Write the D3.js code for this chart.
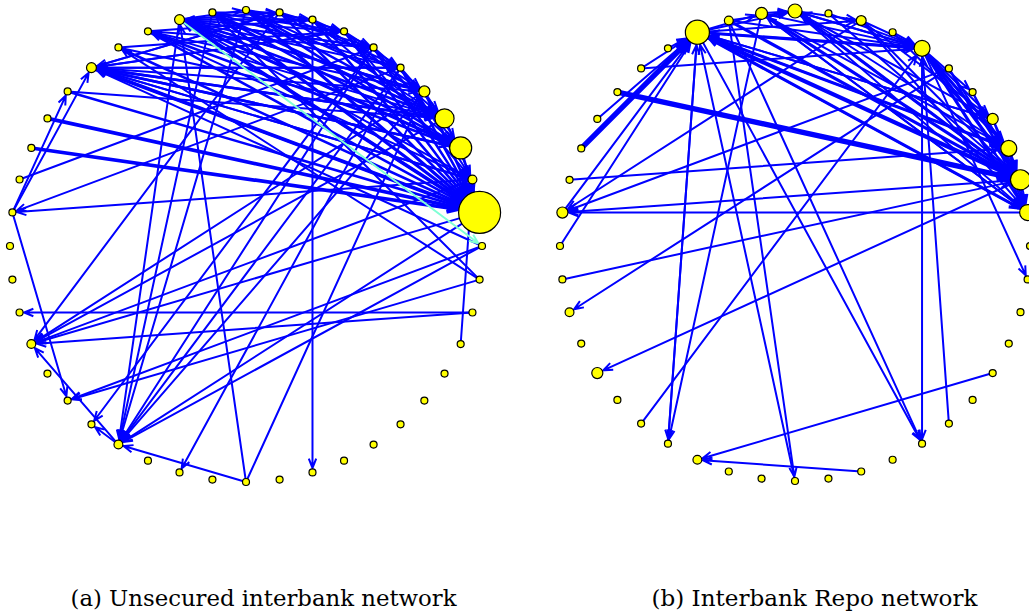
<!DOCTYPE html>
<html lang="en">
<head>
<meta charset="UTF-8">
<title>Interbank networks</title>
<script src="https://d3js.org/d3.v7.min.js"></script>
<style>
  body { margin: 0; background: #fff; }
  .caption { font-family: "DejaVu Serif", "Liberation Serif", serif; }
</style>
</head>
<body>
<script>
const width = 1029;
const height = 613;
const nodeCount = 44;

// node volume (bank size), index 0 = top of circle, clockwise
const volumeA = [1,1,1,1,1,1,2.5,7.4,9.9,1.6,36,1,1,1,1,1,1,1,1,1,1,1,1,1,1,1,1.6,1,1,1,1.6,1,1,1,1,1,1,1,1,2,1,1,2,1];
const volumeB = [4,1,2,1,5.2,1,1,2.5,5.2,8.2,5.2,1,1,1,1,1,1,1,1,1,1,1,1,1,1,1.6,1,1,1,2.5,1,1.6,1,1,2.5,1,1,1,1,1,1,11.8,1.6,2.9];

// [source, target, weight]
const edgesA = [
  [42,0,1],[42,1,1],[42,2,1],[42,3,1],[42,4,1],[42,5,1],[42,6,1.5],[42,7,1.5],[42,8,2],[42,9,1],[42,10,2.5],
  [43,1,1],[43,3,1],[43,5,1],[43,7,1.5],[43,8,1.5],[43,10,2],
  [0,2,1],[0,4,1],[0,6,1],[0,7,1.5],[0,8,1.5],[0,10,2],
  [1,3,1],[1,5,1],[1,7,1],[1,10,1.5],
  [2,4,1],[2,6,1],[2,8,1],[2,10,1.5],[2,20,1],
  [3,5,1],[3,7,1],[3,9,1],[3,10,1.5],
  [4,6,1],[4,8,1],[4,10,1.5],
  [5,7,1],[5,9,1],[5,10,1.5],
  [6,8,1],[6,10,1.5],[7,9,1],[8,10,1.5],
  [39,1,1],[39,3,1],[39,5,1],[39,6,1],[39,7,1.5],[39,8,1.5],[39,9,1],[39,10,2.5],
  [41,2,1],[41,4,1],[41,6,1],[41,8,1.5],[41,10,1.5],
  [40,3,1],[40,7,1],[40,10,1.5],
  [38,10,1.5],[38,7,1],[37,10,2.5],[36,10,2.5],[35,4,1],
  [1,39,1],[3,39,1],[5,39,1],[7,39,1.5],[8,39,1.5],[10,39,1.5],[11,39,1],[9,39,1],
  [2,42,1],[4,42,1],[6,42,1],[8,42,1],[10,42,1.5],[9,41,1],[7,41,1],[12,40,1],
  [12,43,1],
  [34,38,1],[34,39,1],[5,34,1],[9,34,1],[34,28,1],
  [13,31,1],[13,30,1],[14,9,1],
  [1,30,1],[6,30,1],[7,30,1],[9,30,1],[10,30,1],[26,30,1],
  [42,26,1],[43,26,1],[0,26,1],[4,26,1],[5,26,1],[6,26,1],[10,26,1],[11,26,1],[22,26,1],
  [4,27,1],[26,27,1],
  [11,28,1],[12,28,1],[5,24,1],[22,42,1],[22,6,1]
];
const highlightA = [[42,11,1]];

const edgesB = [
  [36,41,4],[37,41,1],[39,41,1],[40,41,1],[34,41,1],[33,41,1],[22,41,1],[26,41,1],
  [9,41,1],[10,41,1],[8,41,1],[4,41,1],[7,41,1],
  [41,43,1],[41,0,1],[41,2,1],[41,4,2],[41,7,1],[41,8,2],[41,9,3],[41,10,2],[41,26,1],[41,18,1],
  [42,0,1],[42,18,1],[42,22,1],[42,9,2],[42,4,1],
  [43,0,1],[43,4,1],[43,8,1],[43,9,2],[43,10,1],[43,26,1],
  [0,2,1],[0,4,1],[0,7,1],[0,8,1],[0,9,2],[0,10,1],
  [1,4,1],[1,9,1],
  [2,4,1],[2,7,1],[2,9,1],[2,10,1],[2,34,1],
  [3,4,1],[3,8,1],
  [4,6,1],[4,7,1],[4,8,2],[4,9,2],[4,10,2],[4,18,1],[17,4,1],[4,12,1],[4,0,1],
  [5,9,1],[5,10,1],[6,9,1],[6,10,1],[7,9,1],[7,10,1],[8,9,1],[8,10,1],[9,10,1],
  [9,0,1],[10,43,1],
  [38,9,4],[39,4,1],[35,8,1],[32,9,1],[9,34,1],[10,34,1],[5,34,1],[5,31,1],[9,29,1],[27,4,1],[15,25,1],[20,25,1]
];

const captions = ["(a) Unsecured interbank network", "(b) Interbank Repo network"];

const svg = d3.select("body").append("svg")
  .attr("width", width)
  .attr("height", height);

const angle = d3.scaleLinear().domain([0, nodeCount]).range([0, 2 * Math.PI]);
const radius = d3.scaleSqrt().domain([0, 36]).range([0, 21]);
const strokeW = d3.scaleLinear().domain([1, 4]).range([2, 5.4]);

function drawNetwork(g, cx, cy, R, volumes, edges, extra) {
  const nodes = volumes.map(function (v, i) {
    return {
      x: cx + R * Math.sin(angle(i)),
      y: cy - R * Math.cos(angle(i)),
      r: radius(v)
    };
  });

  // line from source centre to target rim, open arrowhead at the rim
  function edgePaths(list, color) {
    list.forEach(function (e) {
      const s = nodes[e[0]], t = nodes[e[1]];
      const dx = t.x - s.x, dy = t.y - s.y;
      const len = Math.sqrt(dx * dx + dy * dy);
      const ux = dx / len, uy = dy / len;
      const tipX = t.x - ux * (t.r + 1), tipY = t.y - uy * (t.r + 1);
      const w = strokeW(e[2]);
      const L = 8 + w, a = 0.38;
      const c = Math.cos(a), sn = Math.sin(a);
      const b1x = tipX - L * (ux * c - uy * sn), b1y = tipY - L * (uy * c + ux * sn);
      const b2x = tipX - L * (ux * c + uy * sn), b2y = tipY - L * (uy * c - ux * sn);
      const p = d3.path();
      p.moveTo(s.x, s.y);
      p.lineTo(tipX, tipY);
      p.moveTo(b1x, b1y);
      p.lineTo(tipX, tipY);
      p.lineTo(b2x, b2y);
      g.append("path")
        .attr("d", p.toString())
        .attr("fill", "none")
        .attr("stroke", color)
        .attr("stroke-width", w)
        .attr("stroke-linejoin", "miter");
    });
  }

  edgePaths(edges, "#0000ff");
  edgePaths(extra, "#7fffd4");

  g.selectAll("circle")
    .data(nodes)
    .enter()
    .append("circle")
    .attr("cx", function (d) { return d.x; })
    .attr("cy", function (d) { return d.y; })
    .attr("r", function (d) { return d.r; })
    .attr("fill", "#ffff00")
    .attr("stroke", "#000")
    .attr("stroke-width", 1.2);
}

drawNetwork(svg.append("g"), 246, 246, 236, volumeA, edgesA, highlightA);
drawNetwork(svg.append("g"), 795, 246, 235, volumeB, edgesB, []);

svg.selectAll("text.caption")
  .data(captions)
  .enter()
  .append("text")
  .attr("class", "caption")
  .attr("x", function (d, i) { return i === 0 ? 263.5 : 814.5; })
  .attr("y", 606)
  .attr("text-anchor", "middle")
  .attr("font-size", 23)
  .attr("fill", "#000")
  .attr("textLength", function (d, i) { return i === 0 ? 386 : 326; })
  .attr("lengthAdjust", "spacingAndGlyphs")
  .text(function (d) { return d; });
</script>
</body>
</html>
